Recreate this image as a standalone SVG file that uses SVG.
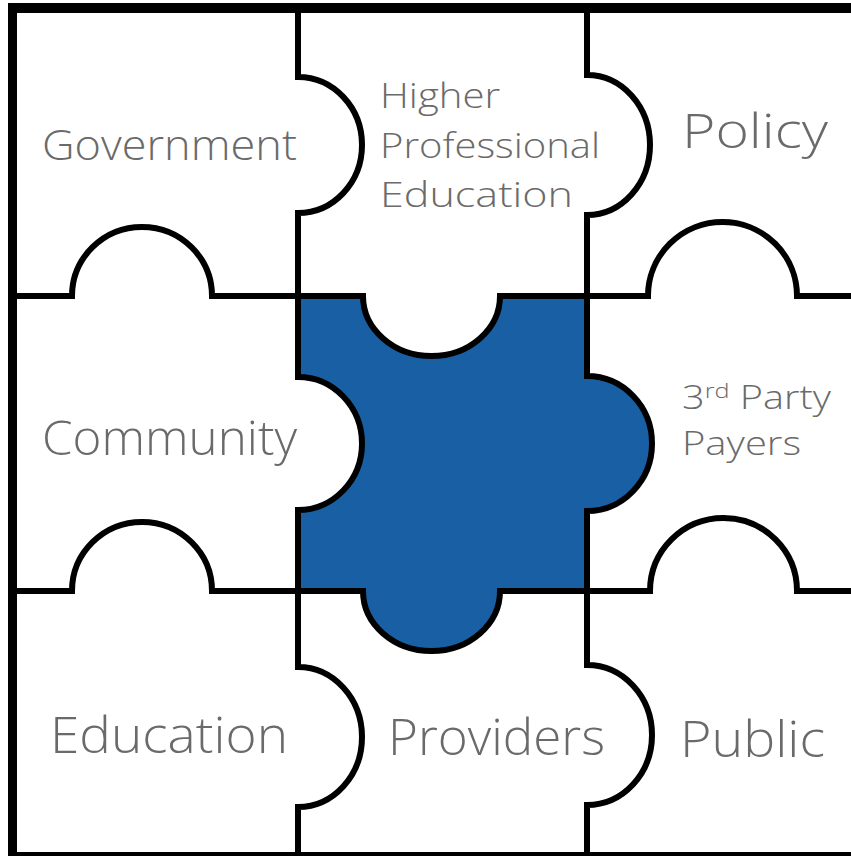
<svg xmlns="http://www.w3.org/2000/svg" width="851" height="856" viewBox="0 0 851 856">
<style>
.t{font-family:"Open Sans","Liberation Sans",sans-serif;font-weight:300;fill:#6a6a6a}
.ln{fill:none;stroke:#000;stroke-width:6;stroke-linejoin:miter}
</style>
<rect x="0" y="0" width="851" height="856" fill="#fff"/>
<g id="center-piece">
<path d="M298,296 H363 A68.5,60 0 0 0 500,296 H587 V376 A65,67.5 0 0 1 587,511 V591 H500 A68.5,60 0 0 1 363,591 H298 V510 A64,66.5 0 0 0 298,377 Z" fill="#1860a3"/>
</g>
<g id="connectors">
<path class="ln" d="M298,13 V77 A64,68 0 0 1 298,213 V377 A64,66.5 0 0 1 298,510 V667 A64,70 0 0 1 298,807 V852"/>
<path class="ln" d="M587,13 V75 A63,70 0 0 1 587,215 V376 A65,67.5 0 0 1 587,511 V665 A65,70 0 0 1 587,805 V852"/>
<path class="ln" d="M17,296 H72 A70,69 0 0 1 212,296 H363 A68.5,60 0 0 0 500,296 H648 A74.5,74 0 0 1 797,296 H851"/>
<path class="ln" d="M17,591 H72 A70,69 0 0 1 212,591 H363 A68.5,60 0 0 0 500,591 H650 A73.5,73 0 0 1 797,591 H851"/>
</g>
<g id="frame">
<rect x="8" y="3" width="843" height="10" fill="#000"/>
<rect x="8" y="3" width="9" height="853" fill="#000"/>
<rect x="8" y="852" width="843" height="4" fill="#000"/>
</g>
<g id="government"><text class="t" x="42" y="160" font-size="42" textLength="255" lengthAdjust="spacingAndGlyphs">Government</text></g>
<g id="higher-professional-education">
<text class="t" x="380" y="108" font-size="35" textLength="120" lengthAdjust="spacingAndGlyphs">Higher</text>
<text class="t" x="380" y="158" font-size="35" textLength="220" lengthAdjust="spacingAndGlyphs">Professional</text>
<text class="t" x="380" y="207" font-size="35" textLength="193" lengthAdjust="spacingAndGlyphs">Education</text>
</g>
<g id="policy"><text class="t" x="682" y="148" font-size="48" textLength="146" lengthAdjust="spacingAndGlyphs">Policy</text></g>
<g id="community"><text class="t" x="42" y="455" font-size="48" textLength="255" lengthAdjust="spacingAndGlyphs">Community</text></g>
<g id="third-party-payers">
<text class="t" x="682" y="409" font-size="33" textLength="149" lengthAdjust="spacingAndGlyphs">3<tspan font-size="21" dy="-11">rd</tspan><tspan dy="11"> Party</tspan></text>
<text class="t" x="682" y="455" font-size="33" textLength="119" lengthAdjust="spacingAndGlyphs">Payers</text>
</g>
<g id="education"><text class="t" x="50" y="753" font-size="50" textLength="238" lengthAdjust="spacingAndGlyphs">Education</text></g>
<g id="providers"><text class="t" x="388" y="755" font-size="50" textLength="217" lengthAdjust="spacingAndGlyphs">Providers</text></g>
<g id="public"><text class="t" x="680" y="757" font-size="50" textLength="145" lengthAdjust="spacingAndGlyphs">Public</text></g>
</svg>
